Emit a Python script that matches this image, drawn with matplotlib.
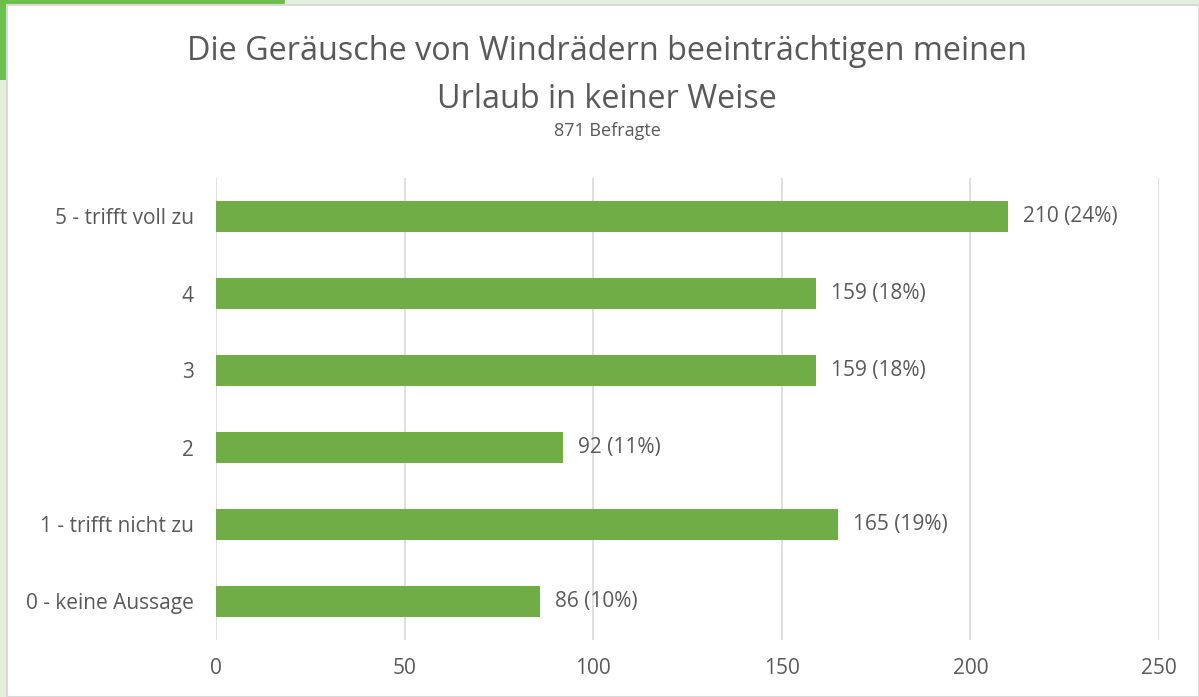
import matplotlib
matplotlib.use("Agg")
import matplotlib.pyplot as plt
from matplotlib.patches import Rectangle, Ellipse

categories = ["0 - keine Aussage", "1 - trifft nicht zu", "2", "3", "4", "5 - trifft voll zu"]
values = [86, 165, 92, 159, 159, 210]
percents = ["10%", "19%", "11%", "18%", "18%", "24%"]
xticks = [0, 50, 100, 150, 200, 250]
title_lines = ["Die Geräusche von Windrädern beeinträchtigen meinen", "Urlaub in keiner Weise"]
subtitle = "871 Befragte"

plt.rcParams['font.family'] = ['Open Sans', 'DejaVu Sans']
text_color = "#595959"
bar_color = "#70ad47"

fig = plt.figure(figsize=(11.99, 6.97), dpi=100)
fig.patch.set_facecolor("#e2efda")
# decorative green shape top-left
fig.patches.append(Ellipse((0.0, 1.0), 2 * 285 / 1199, 2 * 80 / 697, transform=fig.transFigure,
                           facecolor="#6cbf4a", edgecolor="none", zorder=0))
# white panel
fig.patches.append(Rectangle((7/1199, 0), 1 - 7/1199, 1 - 5/697, transform=fig.transFigure,
                             facecolor="white", edgecolor="#d9d9d9", linewidth=1.5, zorder=1))

ax = fig.add_axes([216/1199, 1 - 640/697, (1159 - 216)/1199, (640 - 178)/697])
ax.set_facecolor("none")
ax.set_zorder(2)

y = range(len(categories))
ax.barh(y, values, height=0.39, color=bar_color, zorder=3)
for yi, v, p in zip(y, values, percents):
    ax.text(v + 4, yi, f"{v} ({p})", va="center", ha="left", fontsize=15, color=text_color)

ax.set_xlim(0, 250)
ax.set_ylim(-0.5, len(categories) - 0.5)
ax.set_xticks(xticks)
ax.set_xticklabels([str(t) for t in xticks])
ax.set_yticks(list(y))
ax.set_yticklabels(categories)
ax.tick_params(axis="both", length=0, labelsize=15, colors=text_color)
ax.tick_params(axis="x", pad=13)
ax.tick_params(axis="y", pad=16)
ax.grid(axis="x", color="#d9d9d9", linewidth=1.2, zorder=0)
for s in ax.spines.values():
    s.set_visible(False)

for i, line in enumerate(title_lines):
    fig.text(607/1199, 1 - (51 + 48 * i)/697, line, ha="center", va="center", fontsize=23.3,
             color=text_color)
fig.text(607/1199, 1 - 131/697, subtitle, ha="center", va="center", fontsize=13,
         color=text_color)

fig.savefig("out.png", dpi=100, facecolor=fig.get_facecolor())
